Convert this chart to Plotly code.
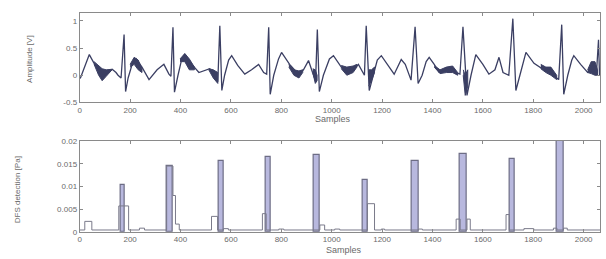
import plotly.graph_objects as go

# ---------------- data: ECG amplitude (top) ----------------
ecg_samples = [2, 18, 38, 57, 89, 113, 129, 144, 152, 164, 176, 182, 192, 208, 224, 247, 275, 307, 334, 354, 362,
               370, 376, 390, 405, 417, 445, 473, 496, 516, 532, 548,
               556, 564, 575, 591, 603, 627, 655, 682, 710, 730, 742,
               750, 756, 770, 789, 801, 833, 868, 888, 908, 924, 936,
               943, 951, 967, 991, 1007, 1038, 1066, 1090, 1106, 1122, 1130,
               1137, 1149, 1165, 1181, 1197, 1220, 1248, 1276, 1292, 1315,
               1331, 1343, 1359, 1375, 1387, 1407, 1427, 1454, 1474, 1493, 1509,
               1521, 1537, 1553, 1565, 1572, 1600, 1624, 1648, 1664, 1680, 1703,
               1719, 1731, 1747, 1763, 1771, 1803, 1842, 1869, 1893, 1901,
               1913, 1921, 1937, 1953, 1961, 1988, 2016, 2035, 2051, 2059, 2063]
ecg_values = [-0.06, 0.15, 0.38, 0.22, 0.02, 0.06, 0.11, 0.05, 0.0, -0.05, 0.75, -0.3, -0.05, 0.2, 0.3, 0.15, -0.08, 0.1, 0.2, 0.02, -0.02,
              0.88, -0.31, 0.0, 0.3, 0.38, 0.2, 0.05, 0.08, 0.12, 0.0, -0.12,
              0.91, -0.28, 0.0, 0.28, 0.36, 0.18, 0.02, 0.1, 0.2, 0.05, 0.02,
              0.88, -0.35, 0.0, 0.3, 0.42, 0.2, 0.02, 0.1, 0.27, 0.05, -0.1,
              0.84, -0.3, 0.0, 0.3, 0.36, 0.15, 0.05, 0.12, 0.2, 0.08, 0.0,
              0.91, -0.28, 0.0, 0.28, 0.36, 0.2, 0.02, 0.29, 0.2, -0.09,
              0.89, -0.15, 0.0, 0.25, 0.33, 0.2, 0.05, 0.1, 0.15, 0.05, 0.02,
              0.89, -0.37, 0.0, 0.28, 0.38, 0.2, 0.02, 0.1, 0.33, 0.05, 0.0,
              1.04, -0.28, 0.0, 0.3, 0.42, 0.22, 0.1, 0.12, -0.05, -0.08,
              0.93, -0.35, 0.0, 0.28, 0.36, 0.2, 0.05, 0.1, 0.05, 0.65, 0.0]

# dense (noisy) bands of the ECG trace: samples, lower and upper envelope
band_samples = [[57, 75, 89, 105, 128], [200, 216, 232, 247], [398, 417, 435, 455], [512, 530, 548],
                [830, 850, 870, 885], [925, 935, 942], [1038, 1060, 1085, 1100], [1147, 1158, 1170],
                [1407, 1430, 1455, 1480, 1500], [1522, 1530, 1540], [1830, 1850, 1870, 1893],
                [2016, 2030, 2045, 2055]]
band_upper = [[0.25, 0.18, 0.12, 0.1, 0.11], [0.2, 0.33, 0.28, 0.12], [0.3, 0.4, 0.3, 0.15], [0.12, 0.1, 0.05],
              [0.2, 0.1, 0.08, 0.1], [0.12, 0.1, 0.0], [0.18, 0.15, 0.17, 0.2], [0.1, 0.1, 0.15],
              [0.18, 0.1, 0.15, 0.17, 0.05], [0.1, 0.0, 0.1], [0.2, 0.15, 0.15, 0.0],
              [0.1, 0.25, 0.25, 0.1]]
band_lower = [[0.2, 0.0, -0.1, -0.02, 0.1], [0.15, 0.2, 0.1, 0.05], [0.25, 0.25, 0.1, 0.1], [0.1, -0.05, -0.15],
              [0.15, 0.0, -0.05, 0.05], [0.05, -0.15, -0.1], [0.12, 0.0, 0.05, 0.15], [-0.2, -0.1, 0.05],
              [0.15, 0.03, 0.05, 0.05, 0.0], [0.0, -0.37, -0.2], [0.12, 0.05, 0.0, -0.08],
              [0.05, 0.03, 0.0, 0.0]]

# ---------------- data: detection (bottom) ----------------
det_samples = [0, 20, 48, 155, 194, 237, 257, 345, 370, 380, 395, 523, 547, 570, 590, 725, 740, 760, 790, 810,
               953, 972, 1012, 1032, 1142, 1170, 1197, 1210, 1344, 1360, 1494, 1510, 1537, 1550,
               1692, 1705, 1728, 1763, 1802, 1880, 1894, 1920, 1935, 2065]
det_values = [0.0004, 0.0023, 0.0004, 0.0057, 0.0004, 0.0008, 0.0004, 0.0145, 0.008, 0.0017, 0.0004, 0.0034, 0.0004, 0.0007, 0.0004, 0.004, 0.0004, 0.0004, 0.0006, 0.0004,
              0.0015, 0.0004, 0.0006, 0.0004, 0.0062, 0.0004, 0.0006, 0.0004, 0.0006, 0.0004, 0.0028, 0.0004, 0.0028, 0.0004,
              0.0038, 0.0004, 0.0004, 0.0007, 0.0004, 0.0008, 0.0004, 0.0008, 0.0004, 0.0004]
peak_start = [164, 345, 550, 740, 930, 1122, 1316, 1510, 1705, 1894]
peak_end = [180, 370, 570, 760, 953, 1142, 1344, 1537, 1728, 1920]
peak_height = [0.0104, 0.0145, 0.0157, 0.0164, 0.017, 0.0115, 0.0155, 0.0172, 0.016, 0.0205]

x_ticks = [0, 200, 400, 600, 800, 1000, 1200, 1400, 1600, 1800, 2000]
top_yticks = [-0.5, 0, 0.5, 1]
top_ylabels = ["-0.5", "0", "0.5", "1"]
bot_yticks = [0, 0.005, 0.01, 0.015, 0.02]
bot_ylabels = ["0", "0.005", "0.01", "0.015", "0.02"]

# ---------------- figure ----------------
W, H = 606, 259
def px(x):
    return x / W
def py(y):
    return 1 - y / H

line_col = "#3b3f63"
axis_col = "#8a8a8a"
txt_col = "#6a6a6a"
fam = "Liberation Sans, Arial, sans-serif"
font = dict(family=fam, size=8, color=txt_col)

fig = go.Figure()

for bx, bl, bu in zip(band_samples, band_lower, band_upper):
    fig.add_trace(go.Scatter(x=bx + bx[::-1], y=bu + bl[::-1], fill="toself", mode="lines",
                             line=dict(color=line_col, width=1), fillcolor=line_col,
                             xaxis="x", yaxis="y", showlegend=False, hoverinfo="skip"))

fig.add_trace(go.Scatter(x=ecg_samples, y=ecg_values, mode="lines",
                         line=dict(color=line_col, width=1.3), xaxis="x", yaxis="y", showlegend=False))

fig.add_trace(go.Scatter(x=det_samples, y=det_values, mode="lines", line_shape="hv",
                         line=dict(color="#7a7a8a", width=1), xaxis="x2", yaxis="y2", showlegend=False))

fig.add_trace(go.Bar(x=[(a + b) / 2 for a, b in zip(peak_start, peak_end)],
                     width=[b - a for a, b in zip(peak_start, peak_end)],
                     y=peak_height, marker=dict(color="#b8b8de", line=dict(color="#6d6d85", width=1.2)),
                     xaxis="x2", yaxis="y2", showlegend=False))

xdom = [px(78), px(600)]
common_x = dict(range=[0, 2065], tickvals=x_ticks, ticks="inside", ticklen=3, tickcolor=axis_col,
                showline=True, linecolor=axis_col, linewidth=1, mirror="ticks", showgrid=False,
                zeroline=False, tickfont=font)
fig.update_layout(
    width=W, height=H, margin=dict(l=0, r=0, t=0, b=0),
    paper_bgcolor="white", plot_bgcolor="white", bargap=0,
    xaxis=dict(domain=xdom, anchor="y", **common_x),
    yaxis=dict(domain=[py(102), py(9)], range=[-0.5, 1.15], tickvals=top_yticks, ticktext=top_ylabels,
               ticks="inside", ticklen=3, tickcolor=axis_col, showline=True, linecolor=axis_col,
               mirror="ticks", showgrid=False, zeroline=False, tickfont=font, anchor="x"),
    xaxis2=dict(domain=xdom, anchor="y2", **common_x),
    yaxis2=dict(domain=[py(236), py(142)], range=[0, 0.02], tickvals=bot_yticks, ticktext=bot_ylabels,
                ticks="inside", ticklen=3, tickcolor=axis_col, showline=True, linecolor=axis_col,
                mirror="ticks", showgrid=False, zeroline=False, tickfont=font, anchor="x2"),
    annotations=[
        dict(text="Samples", x=px(332), y=py(119), xref="paper", yref="paper", showarrow=False,
             xanchor="center", yanchor="middle", font=dict(family=fam, size=9, color=txt_col)),
        dict(text="Samples", x=px(343), y=py(255), xref="paper", yref="paper", showarrow=False,
             xanchor="center", yanchor="middle", font=dict(family=fam, size=9, color=txt_col)),
        dict(text="Amplitude [V]", x=px(27), y=py(57), xref="paper", yref="paper", showarrow=False,
             xanchor="center", yanchor="middle", textangle=-90, font=dict(family=fam, size=8, color=txt_col)),
        dict(text="DFS detection [Pa]", x=px(15), y=py(192), xref="paper", yref="paper", showarrow=False,
             xanchor="center", yanchor="middle", textangle=-90, font=dict(family=fam, size=8, color=txt_col)),
    ],
)

fig.write_html("out.html")
